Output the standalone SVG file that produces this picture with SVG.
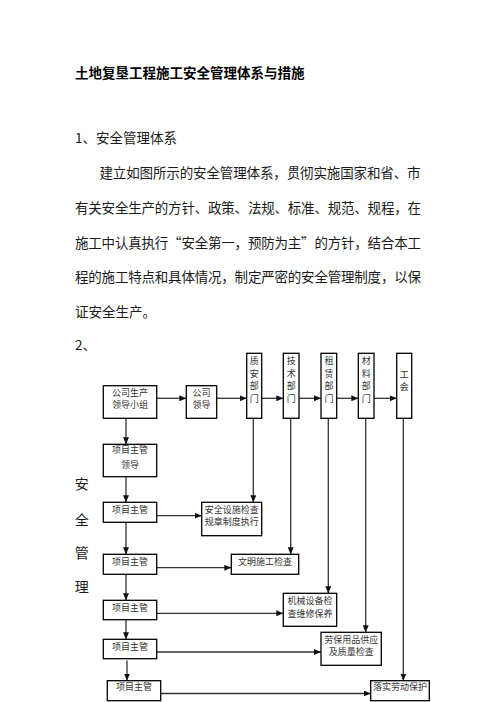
<svg xmlns="http://www.w3.org/2000/svg" width="496" height="702" viewBox="0 0 496 702">
<defs>
<style>
.t{font-family:"Noto Sans CJK SC","Liberation Sans",sans-serif;fill:#1a1a1a}
.title{font-size:13.5px;font-weight:bold;fill:#000}
.body{font-size:13.5px}
.bx{fill:#fff;stroke:#000;stroke-width:1.3}
.bt{font-family:"Noto Sans CJK SC","Liberation Sans",sans-serif;font-size:9px;fill:#333;text-anchor:middle}
.ln{stroke:#333;stroke-width:1.3;fill:none;marker-end:url(#ah)}
</style>
<marker id="ah" markerUnits="userSpaceOnUse" markerWidth="7" markerHeight="6" refX="7" refY="3" orient="auto">
<path d="M0,0 L7,3 L0,6 z" fill="#111"/>
</marker>
</defs>
<rect width="496" height="702" fill="#fff"/>

<g id="text-block">
<text class="t title" x="75" y="78.3">土地复垦工程施工安全管理体系与措施</text>
<text class="t body" x="75" y="143">1、安全管理体系</text>
<text class="t body" x="99.5" y="178.3" textLength="321">建立如图所示的安全管理体系，贯彻实施国家和省、市</text>
<text class="t body" x="75" y="212.9" textLength="346">有关安全生产的方针、政策、法规、标准、规范、规程，在</text>
<text class="t body" x="75" y="247.5" textLength="346">施工中认真执行“安全第一，预防为主”的方针，结合本工</text>
<text class="t body" x="75" y="282.1" textLength="346">程的施工特点和具体情况，制定严密的安全管理制度，以保</text>
<text class="t body" x="75" y="316.7">证安全生产。</text>
<text class="t body" x="75" y="350.3">2、</text>
<g class="t" font-size="14" text-anchor="middle">
<text x="81.7" y="489.3">安</text>
<text x="81.7" y="525.3">全</text>
<text x="81.7" y="557.6">管</text>
<text x="81.7" y="592">理</text>
</g>
</g>

<g id="connectors">
<line class="ln" x1="156.7" y1="398.3" x2="186.3" y2="398.3"/>
<line class="ln" x1="216.7" y1="398.3" x2="246.7" y2="398.3"/>
<line class="ln" x1="261.7" y1="398.3" x2="283.3" y2="398.3"/>
<line class="ln" x1="299" y1="398.3" x2="321" y2="398.3"/>
<line class="ln" x1="336.7" y1="398.3" x2="358.3" y2="398.3"/>
<line class="ln" x1="374" y1="398.3" x2="396.7" y2="398.3"/>
<line class="ln" x1="126" y1="418.3" x2="126" y2="444.3"/>
<line class="ln" x1="126" y1="476.7" x2="126" y2="502.3"/>
<line class="ln" x1="126" y1="522.3" x2="126" y2="554.3"/>
<line class="ln" x1="126" y1="574.3" x2="126" y2="600.3"/>
<line class="ln" x1="126" y1="619.7" x2="126" y2="639.3"/>
<line class="ln" x1="127" y1="660.5" x2="127" y2="680.7"/>
<line class="ln" x1="253.3" y1="418.3" x2="253.3" y2="502.3"/>
<line class="ln" x1="290.7" y1="418.3" x2="290.7" y2="554.3"/>
<line class="ln" x1="328.3" y1="418.3" x2="328.3" y2="593.3"/>
<line class="ln" x1="365.7" y1="418.3" x2="365.7" y2="632.3"/>
<line class="ln" x1="403.3" y1="418.3" x2="403.3" y2="680.7"/>
<line class="ln" x1="156.7" y1="515.7" x2="201.7" y2="515.7"/>
<line class="ln" x1="156.7" y1="567.7" x2="231.3" y2="567.7"/>
<line class="ln" x1="156.7" y1="613.3" x2="283.3" y2="613.3"/>
<line class="ln" x1="156.7" y1="652" x2="321" y2="652"/>
<line class="ln" x1="160.7" y1="693.5" x2="370.7" y2="693.5"/>
</g>

<g id="n-gongsi-xiaozu">
<rect class="bx" x="103.3" y="385.7" width="53.4" height="32.6"/>
<text class="bt" x="130" y="395.8">公司生产</text>
<text class="bt" x="130" y="408.4">领导小组</text>
</g>
<g id="n-gongsi-lingdao">
<rect class="bx" x="186.3" y="385.7" width="30.4" height="32.6"/>
<text class="bt" x="201.5" y="395.8">公司</text>
<text class="bt" x="201.5" y="408.4">领导</text>
</g>
<g id="n-zhian">
<rect class="bx" x="246.7" y="353.3" width="15" height="65"/>
<text class="bt" x="254.2" y="364.4">质</text>
<text class="bt" x="254.2" y="376.9">安</text>
<text class="bt" x="254.2" y="389.4">部</text>
<text class="bt" x="254.2" y="401.9">门</text>
</g>
<g id="n-jishu">
<rect class="bx" x="283.3" y="353.3" width="15.7" height="65"/>
<text class="bt" x="291.2" y="364.4">技</text>
<text class="bt" x="291.2" y="376.9">术</text>
<text class="bt" x="291.2" y="389.4">部</text>
<text class="bt" x="291.2" y="401.9">门</text>
</g>
<g id="n-zulin">
<rect class="bx" x="321" y="353.3" width="15.7" height="65"/>
<text class="bt" x="328.9" y="364.4">租</text>
<text class="bt" x="328.9" y="376.9">赁</text>
<text class="bt" x="328.9" y="389.4">部</text>
<text class="bt" x="328.9" y="401.9">门</text>
</g>
<g id="n-cailiao">
<rect class="bx" x="358.3" y="353.3" width="15.7" height="65"/>
<text class="bt" x="366.2" y="364.4">材</text>
<text class="bt" x="366.2" y="376.9">料</text>
<text class="bt" x="366.2" y="389.4">部</text>
<text class="bt" x="366.2" y="401.9">门</text>
</g>
<g id="n-gonghui">
<rect class="bx" x="396.7" y="353.3" width="15" height="65"/>
<text class="bt" x="404.2" y="377.8">工</text>
<text class="bt" x="404.2" y="390.4">会</text>
</g>
<g id="n-xiangmu-lingdao">
<rect class="bx" x="103.3" y="444.3" width="53.4" height="32.4"/>
<text class="bt" x="130" y="453.4">项目主管</text>
<text class="bt" x="130" y="467.7">领导</text>
</g>
<g id="n-xiangmu-1">
<rect class="bx" x="103.3" y="502.3" width="53.4" height="20"/>
<text class="bt" x="130" y="512.6">项目主管</text>
</g>
<g id="n-anquan-sheshi">
<rect class="bx" x="201.7" y="502.3" width="60" height="33.4"/>
<text class="bt" x="231.7" y="512.6">安全设施检查</text>
<text class="bt" x="231.7" y="525.2">规章制度执行</text>
</g>
<g id="n-xiangmu-2">
<rect class="bx" x="103.3" y="554.3" width="53.4" height="20"/>
<text class="bt" x="130" y="564.6">项目主管</text>
</g>
<g id="n-wenming">
<rect class="bx" x="231.3" y="554.3" width="67.4" height="20"/>
<text class="bt" x="265" y="564.6">文明施工检查</text>
</g>
<g id="n-xiangmu-3">
<rect class="bx" x="103.3" y="600.3" width="53.4" height="19.4"/>
<text class="bt" x="130" y="610.6">项目主管</text>
</g>
<g id="n-jixie">
<rect class="bx" x="283.3" y="593.3" width="53.4" height="33"/>
<text class="bt" x="310" y="604.1">机械设备检</text>
<text class="bt" x="310" y="616.7">查维修保养</text>
</g>
<g id="n-xiangmu-4">
<rect class="bx" x="103.3" y="639.3" width="53.4" height="19.4"/>
<text class="bt" x="130" y="649.6">项目主管</text>
</g>
<g id="n-laobao">
<rect class="bx" x="321" y="632.3" width="60.3" height="33"/>
<text class="bt" x="351.2" y="642.6">劳保用品供应</text>
<text class="bt" x="351.2" y="655.2">及质量检查</text>
</g>
<g id="n-xiangmu-5">
<rect class="bx" x="107.3" y="680.7" width="53.4" height="20"/>
<text class="bt" x="134" y="690.3">项目主管</text>
</g>
<g id="n-luoshi">
<rect class="bx" x="370.7" y="680.7" width="58.6" height="20"/>
<text class="bt" x="400" y="690.3">落实劳动保护</text>
</g>
</svg>
